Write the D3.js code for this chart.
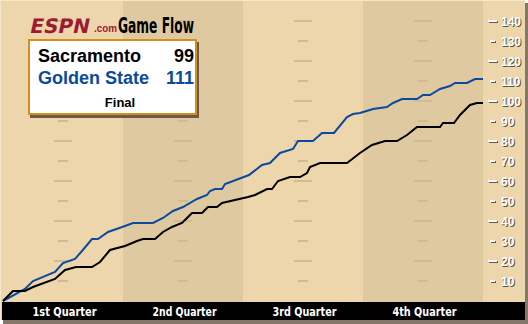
<!DOCTYPE html>
<html>
<head>
<meta charset="utf-8">
<script src="https://cdn.jsdelivr.net/npm/d3@7"></script>
<style>
  body { margin: 0; background: #fff; }
  svg { display: block; }
</style>
</head>
<body>
<svg id="chart" width="528" height="324"></svg>
<script>
// game flow data: minute of the game and running score
var quarters = ["1st Quarter", "2nd Quarter", "3rd Quarter", "4th Quarter"];
var yTicks = [10, 20, 30, 40, 50, 60, 70, 80, 90, 100, 110, 120, 130, 140];

var sacMinutes = [0, 1, 2.2, 3, 5.2, 6.2, 7.3, 8.9, 9.7, 10.7, 12.2, 13.4, 14, 15.2, 16, 16.9, 17.9, 18.4, 18.9, 19.9, 20.5, 21.4, 21.9, 24.5, 25.2, 26.4, 26.9, 27.5, 28.7, 29.7, 30.4, 30.7, 31.7, 34.4, 35.7, 36.9, 38.2, 39.4, 40.4, 41.4, 43.7, 44, 45.1, 45.7, 46.7, 47.4, 48];
var sacScores  = [0, 5, 5, 7, 11, 15.5, 17, 17, 19.5, 25.5, 27.5, 30, 31, 31, 34.5, 37, 39, 41.5, 44, 44, 47, 47, 49, 52, 53, 56, 56, 60, 62, 62, 64, 67, 69, 69, 74, 78, 80, 80, 83, 87, 87, 89, 89, 93, 98, 99, 99];

var gswMinutes = [0, 2.2, 3, 5.2, 6, 7.2, 7.9, 8.9, 9.5, 10.5, 12.2, 13, 15, 16, 17, 18, 19.4, 20.4, 20.7, 21.2, 21.9, 22.2, 24.6, 25.9, 26.7, 27.7, 29, 29.5, 31, 31.9, 33.1, 34.4, 35, 35.7, 37, 38.4, 39, 39.9, 41.4, 42, 42.7, 43.7, 44.7, 45.2, 46.4, 47.2, 48];
var gswScores  = [0, 6, 10, 14.5, 19, 21, 25, 31, 31, 34.5, 37.5, 39, 39, 41.5, 45, 47, 51, 53, 55, 56, 56, 58.5, 63, 68, 69, 74, 76, 80, 80, 84, 84, 92, 93.5, 94, 96, 97, 99, 101, 101, 103, 103, 106, 107.5, 109, 109, 111, 111];

var teams = ["Sacramento", "Golden State"];
var finals = [99, 111];

var svg = d3.select("#chart");

var x = d3.scaleLinear().domain([0, 48]).range([3, 483]);
var y = d3.scaleLinear().domain([0, 150]).range([301, 1]);

var light = "#EDD6AB";
var dark = "#DEC9A0";

// background + drop shadow
svg.append("rect").attr("x", 3).attr("y", 3).attr("width", 525).attr("height", 321).attr("fill", "#85786A");
svg.append("rect").attr("x", 0).attr("y", 0).attr("width", 525).attr("height", 320).attr("fill", light);
svg.append("rect").attr("x", 0).attr("y", 0).attr("width", 525).attr("height", 1).attr("fill", "#F5E7CB");
svg.append("rect").attr("x", 0).attr("y", 0).attr("width", 1).attr("height", 320).attr("fill", "#F5E7CB");

// quarter bands
svg.selectAll("rect.band")
  .data(quarters)
  .enter().append("rect")
  .attr("class", "band")
  .attr("x", function (d, i) { return x(i * 12); })
  .attr("y", 1)
  .attr("width", function (d, i) { return x((i + 1) * 12) - x(i * 12); })
  .attr("height", 301)
  .attr("fill", function (d, i) { return i % 2 ? dark : light; });

// little grid dashes in the middle of every quarter
var dashes = [];
quarters.forEach(function (q, i) {
  yTicks.forEach(function (v) { dashes.push({ q: i, v: v }); });
});
svg.selectAll("rect.dash")
  .data(dashes)
  .enter().append("rect")
  .attr("class", "dash")
  .attr("x", function (d) { return x(d.q * 12 + 6) - (d.v % 20 ? 5 : 9); })
  .attr("y", function (d) { return y(d.v) - 1; })
  .attr("width", function (d) { return d.v % 20 ? 10 : 18; })
  .attr("height", 2)
  .attr("fill", "#D2BA95");

// right axis: white labels with dark shadow
var axisG = svg.append("g");
yTicks.forEach(function (v) {
  var long = v % 20 === 0;
  var x0 = long ? 488 : 490, w = long ? 9 : 5;
  axisG.append("rect").attr("x", x0 + 1).attr("y", y(v)).attr("width", w).attr("height", 2).attr("fill", "#6A5A42");
  axisG.append("rect").attr("x", x0).attr("y", y(v) - 1).attr("width", w).attr("height", 2).attr("fill", "#fff");
});
axisG.selectAll("text.shadow")
  .data(yTicks)
  .enter().append("text")
  .attr("x", 502).attr("y", function (d) { return y(d) + 5.5; })
  .attr("fill", "#5E4E36")
  .style("font", "bold 12px 'Liberation Sans', Arial, sans-serif")
  .text(function (d) { return d; });
axisG.selectAll("text.lbl")
  .data(yTicks)
  .enter().append("text")
  .attr("x", 501).attr("y", function (d) { return y(d) + 4.5; })
  .attr("fill", "#fff")
  .style("font", "bold 12px 'Liberation Sans', Arial, sans-serif")
  .text(function (d) { return d; });

// game flow lines
var line = d3.line()
  .x(function (d) { return x(d[0]); })
  .y(function (d) { return y(d[1]); });

svg.append("path")
  .datum(d3.zip(gswMinutes, gswScores))
  .attr("d", line)
  .attr("fill", "none")
  .attr("stroke", "#0B4A9C")
  .attr("stroke-width", 2);

svg.append("path")
  .datum(d3.zip(sacMinutes, sacScores))
  .attr("d", line)
  .attr("fill", "none")
  .attr("stroke", "#000")
  .attr("stroke-width", 2);

// quarter bar at the bottom
svg.append("rect").attr("x", 2).attr("y", 302).attr("width", 523).attr("height", 18).attr("fill", "#000");
svg.selectAll("text.q")
  .data(quarters)
  .enter().append("text")
  .attr("x", function (d, i) { return x(i * 12 + 6) + 1.5; })
  .attr("y", 316)
  .attr("text-anchor", "middle")
  .attr("fill", "#fff")
  .attr("textLength", 64)
  .attr("lengthAdjust", "spacingAndGlyphs")
  .style("font", "bold 13px 'Liberation Sans Narrow', 'DejaVu Sans Condensed', sans-serif")
  .text(function (d) { return d; });

// logo
svg.append("text")
  .attr("x", 30).attr("y", 33)
  .attr("fill", "#9C1B33")
  .attr("transform", "translate(6,0) skewX(-12)")
  .style("font", "900 20px 'DejaVu Sans', sans-serif")
  .text("ESPN");
svg.append("text")
  .attr("x", 94).attr("y", 32)
  .attr("fill", "#9C1B33")
  .attr("textLength", 23)
  .attr("lengthAdjust", "spacingAndGlyphs")
  .style("font", "bold 11px 'Liberation Sans', sans-serif")
  .text(".com");
svg.append("text")
  .attr("x", 118).attr("y", 33)
  .attr("fill", "#000")
  .attr("textLength", 76)
  .attr("lengthAdjust", "spacingAndGlyphs")
  .style("font", "bold 21px 'Liberation Sans Narrow', 'DejaVu Sans Condensed', sans-serif")
  .text("Game Flow");

// score box
svg.append("rect").attr("x", 30).attr("y", 42).attr("width", 169).attr("height", 76).attr("fill", "#6A5C48");
svg.append("rect").attr("x", 29).attr("y", 40).attr("width", 167).attr("height", 74)
  .attr("fill", "#fff").attr("stroke", "#D68E1E").attr("stroke-width", 2);

var teamColors = ["#000", "#0B4A9C"];
teams.forEach(function (t, i) {
  var by = 62 + i * 22;
  svg.append("text").attr("x", 38).attr("y", by)
    .attr("fill", teamColors[i])
    .style("font", "bold 18px 'Liberation Sans', Arial, sans-serif")
    .text(t);
  svg.append("text").attr("x", 194).attr("y", by)
    .attr("text-anchor", "end")
    .attr("fill", teamColors[i])
    .style("font", "bold 18px 'Liberation Sans', Arial, sans-serif")
    .text(finals[i]);
});
svg.append("text").attr("x", 120).attr("y", 107)
  .attr("text-anchor", "middle")
  .style("font", "bold 13px 'Liberation Sans', Arial, sans-serif")
  .text("Final");
</script>
</body>
</html>
